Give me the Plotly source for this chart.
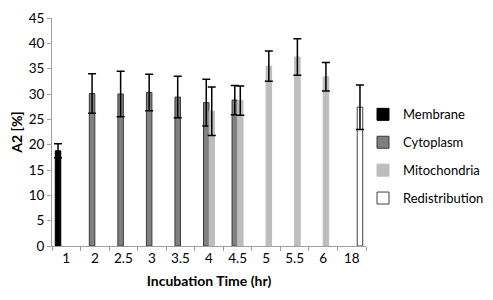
import plotly.graph_objects as go

categories = ["1", "2", "2.5", "3", "3.5", "4", "4.5", "5", "5.5", "6", "18"]

membrane = [18.8, None, None, None, None, None, None, None, None, None, None]
membrane_err = [1.4, None, None, None, None, None, None, None, None, None, None]

cytoplasm = [None, 30.1, 30.0, 30.3, 29.4, 28.3, 28.8, None, None, None, None]
cytoplasm_err = [None, 3.9, 4.5, 3.6, 4.1, 4.6, 2.9, None, None, None, None]

mitochondria = [None, None, None, None, None, 26.6, 28.7, 35.5, 37.3, 33.4, None]
mitochondria_err = [None, None, None, None, None, 4.8, 2.9, 3.0, 3.6, 2.8, None]

redistribution = [None, None, None, None, None, None, None, None, None, None, 27.4]
redistribution_err = [None, None, None, None, None, None, None, None, None, None, 4.4]

series = [
    ("Membrane", membrane, membrane_err, "#000000", "#000000"),
    ("Cytoplasm", cytoplasm, cytoplasm_err, "#808080", "#3a3a3a"),
    ("Mitochondria", mitochondria, mitochondria_err, "#bdbdbd", "#bdbdbd"),
    ("Redistribution", redistribution, redistribution_err, "#ffffff", "#404040"),
]

fig = go.Figure()
for i, (name, vals, errs, fill, edge) in enumerate(series):
    fig.add_trace(go.Bar(
        x=categories, y=vals, name=name,
        marker=dict(color=fill, line=dict(color=edge, width=1)),
        error_y=dict(type="data", array=errs, visible=True, color="#000000",
                     thickness=1.5, width=4),
        legendgroup="g%d" % i,
    ))

font_family = "Lato, 'Open Sans', sans-serif"
# the page body has an 8px margin, so the figure is laid out 8px up/left
fig.update_layout(
    width=493, height=300,
    margin=dict(l=44, r=135, t=10, b=61.5, autoexpand=False),
    paper_bgcolor="white", plot_bgcolor="white",
    barmode="group", bargap=0.23, bargroupgap=0,
    font=dict(family=font_family, size=13, color="#000000"),
    showlegend=True,
    legend=dict(x=(355 - 44) / 314, y=0.393, xanchor="left", yanchor="middle",
                bgcolor="rgba(0,0,0,0)",
                font=dict(size=13), traceorder="grouped", tracegroupgap=8,
                itemwidth=30),
)
fig.update_xaxes(
    type="category", tickson="boundaries", ticks="outside", ticklen=4,
    tickcolor="#a0a0a0", showline=True, linecolor="#a0a0a0", linewidth=1,
    showgrid=False, tickfont=dict(size=13.5), tickangle=0, automargin=False,
    title=dict(text="<b>Incubation Time (hr)</b>", font=dict(size=14), standoff=10),
)
fig.update_yaxes(
    range=[0, 45], dtick=5, ticks="outside", ticklen=4, tickcolor="#a0a0a0",
    showline=True, linecolor="#a0a0a0", linewidth=1, showgrid=False,
    zeroline=False, tickfont=dict(size=13.5), automargin=False,
    title=dict(text="<b>A2 [%]</b>", font=dict(size=14), standoff=6),
)

fig.write_html("out.html")
